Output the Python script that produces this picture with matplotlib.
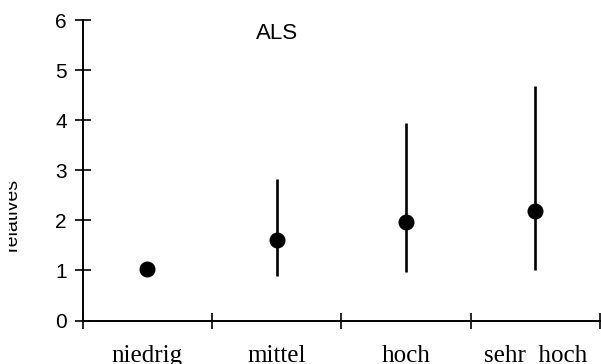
import matplotlib
matplotlib.use("Agg")
import matplotlib.pyplot as plt
from matplotlib.transforms import Bbox, TransformedBbox

categories = ["niedrig", "mittel", "hoch", "sehr  hoch"]
est = [1.02, 1.6, 1.96, 2.18]
lower = [1.02, 0.88, 0.97, 1.01]
upper = [1.02, 2.83, 3.95, 4.68]
y_ticks = [0, 1, 2, 3, 4, 5, 6]

fig = plt.figure(figsize=(6.01, 3.64), dpi=100)
ax = fig.add_axes([0.1376, 0.1195, 0.8606, 0.8255])

xpos = [i + 0.5 for i in range(len(categories))]
err = [[e - lo for e, lo in zip(est, lower)], [up - e for e, up in zip(est, upper)]]
ax.errorbar(xpos, est, yerr=err, fmt="o", color="black", ms=10.5,
            elinewidth=1.9, capsize=0, clip_on=False)

ax.set_xlim(0, 4)
ax.set_ylim(0, 6)
for s in ["top", "right"]:
    ax.spines[s].set_visible(False)
for s in ["left", "bottom"]:
    ax.spines[s].set_linewidth(1.4)

ax.set_yticks(y_ticks)
ax.set_yticklabels([str(v) for v in y_ticks], family="Liberation Sans", fontsize=15)
ax.tick_params(axis="y", direction="inout", length=12, width=1.2, pad=5.5)

ax.set_xticks(range(5))
ax.set_xticklabels([])
ax.set_xticks(xpos, minor=True)
ax.set_xticklabels(categories, minor=True, family="Liberation Serif", fontsize=18)
ax.tick_params(axis="x", which="major", direction="inout", length=12, width=1.2)
ax.tick_params(axis="x", which="minor", length=0, pad=17.5)

ax.text(1.5, 5.73, "ALS", family="Liberation Sans", fontsize=16,
        ha="center", va="center")

# y label is cut in the source: only the lower half of the glyphs shows
ylab = fig.text(21 / 601, 0.41, "relatives", rotation=90, family="Liberation Sans",
                fontsize=14, ha="right", va="center")
ylab.set_clip_box(TransformedBbox(Bbox([[9 / 601, 0], [1, 1]]), fig.transFigure))
ylab.set_clip_on(True)

fig.savefig("out.png", dpi=100)
